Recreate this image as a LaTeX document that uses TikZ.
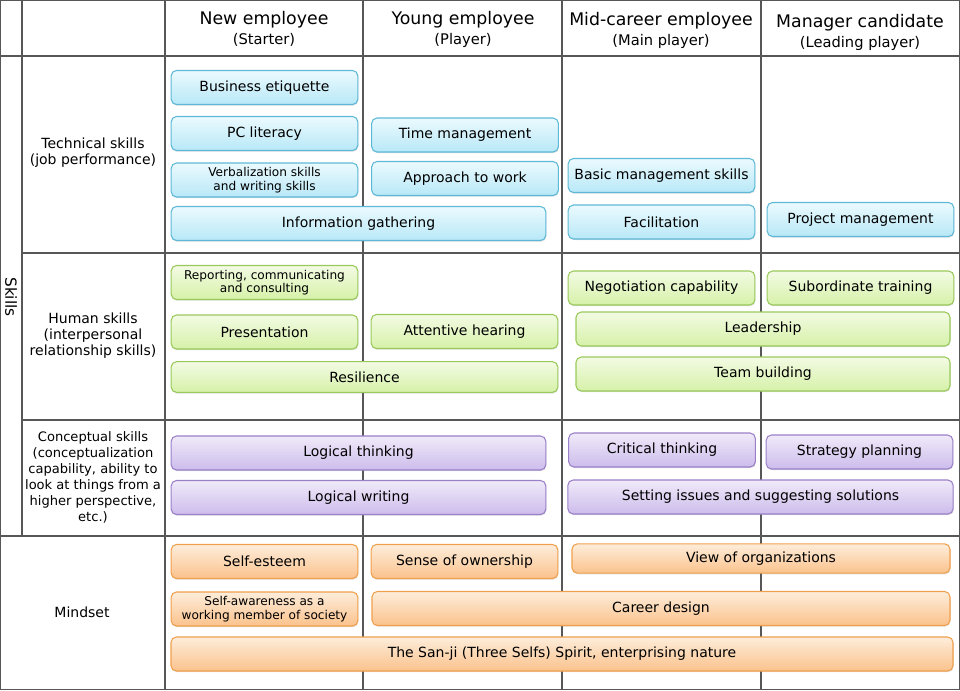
\documentclass[tikz,border=0pt]{standalone}
\usepackage{fontspec}
\setmainfont{DejaVu Sans}
\usetikzlibrary{positioning,shadows}
\definecolor{techtop}{HTML}{EBFAFE}
\definecolor{techbot}{HTML}{B8E8F7}
\definecolor{techline}{HTML}{5DB9D7}
\definecolor{humtop}{HTML}{F3FBE4}
\definecolor{humbot}{HTML}{D6F1A8}
\definecolor{humline}{HTML}{99C95B}
\definecolor{contop}{HTML}{F0EAF9}
\definecolor{conbot}{HTML}{CDBCEC}
\definecolor{conline}{HTML}{9A80C8}
\definecolor{mindtop}{HTML}{FDEDDB}
\definecolor{mindbot}{HTML}{FBC28C}
\definecolor{mindline}{HTML}{F0A04C}
\tikzstyle{grid}=[draw=black!66,line width=0.9pt]
\tikzstyle{head}=[font=\fontsize{13}{15}\selectfont,inner sep=0pt]
\tikzstyle{sub}=[font=\fontsize{11}{13}\selectfont,inner sep=0pt]
\tikzstyle{rowlab}=[align=center,font=\fontsize{10.5}{12}\selectfont]
\tikzstyle{box}=[rounded corners=4pt,line width=0.8pt,align=center,inner sep=1pt,
  minimum height=25.5pt,font=\fontsize{10.5}{12.5}\selectfont,
  drop shadow={shadow xshift=0.4pt,shadow yshift=-0.9pt,opacity=0.25}]
\tikzstyle{small}=[font=\fontsize{9.1}{10.2}\selectfont]
\tikzstyle{tech}=[box,draw=techline,top color=techtop,bottom color=techbot]
\tikzstyle{hum}=[box,draw=humline,top color=humtop,bottom color=humbot]
\tikzstyle{con}=[box,draw=conline,top color=contop,bottom color=conbot]
\tikzstyle{mind}=[box,draw=mindline,top color=mindtop,bottom color=mindbot]
\tikzstyle{one}=[minimum width=140pt]

\begin{document}
\begin{tikzpicture}[x=0.75pt,y=-0.75pt]
  \useasboundingbox (0,0) rectangle (960,690);
  % table grid
  \draw[grid] (0.6,0.6) rectangle (959.4,689.4);
  \draw[grid] (22,0) -- (22,536);
  \foreach \x in {165,363,562,761}
    \draw[grid] (\x,0) -- (\x,690);
  \draw[grid] (0,56) -- (960,56);
  \draw[grid] (22,253) -- (960,253);
  \draw[grid] (22,420) -- (960,420);
  \draw[grid] (0,536) -- (960,536);

  % column heads
  \node[head] (h_1) at (264,20) {New employee};
  \node[sub,below=3.5pt of h_1] {(Starter)};
  \node[head] (h_2) at (463,20) {Young employee};
  \node[sub,below=3.5pt of h_2] {(Player)};
  \node[head] (h_3) at (661,21) {Mid-career employee};
  \node[sub,below=3.5pt of h_3] {(Main player)};
  \node[head] (h_4) at (860,23) {Manager candidate};
  \node[sub,below=3.5pt of h_4] {(Leading player)};

  % row heads
  \node[rotate=-90,font=\fontsize{11.5}{13}\selectfont] (skills) at (11,297) {Skills};
  \node[rowlab] (r_tech) at (93,153) {Technical skills\\(job performance)};
  \node[rowlab] (r_hum) at (93,336) {Human skills\\(interpersonal\\relationship skills)};
  \node[rowlab,font=\fontsize{9.8}{12}\selectfont] (r_con) at (93,477)
    {Conceptual skills\\(conceptualization\\capability, ability to\\look at things from a\\higher perspective,\\etc.)};
  \node[rowlab] (r_mind) at (82,612) {Mindset};

  % technical skills
  \node[tech,one] (t_etiq) at (264.5,87.5) {Business etiquette};
  \node[tech,one] (t_pc) at (264.5,133.5) {PC literacy};
  \node[tech,one] (t_time) at (465,135) {Time management};
  \node[tech,one,small] (t_verb) at (264.5,180) {Verbalization skills\\and writing skills};
  \node[tech,one] (t_appr) at (465,178.5) {Approach to work};
  \node[tech,minimum width=281pt] (t_info) at (358.5,223.5) {Information gathering};
  \node[tech,one] (t_basic) at (661.5,175.5) {Basic management skills};
  \node[tech,one] (t_facil) at (661.5,222) {Facilitation};
  \node[tech,one] (t_proj) at (860.5,219.5) {Project management};

  % human skills
  \node[hum,one,small] (m_report) at (264.5,282.5) {Reporting, communicating\\and consulting};
  \node[hum,one] (m_pres) at (264.5,332) {Presentation};
  \node[hum,one] (m_hear) at (464.5,331.5) {Attentive hearing};
  \node[hum,minimum width=290pt,minimum height=23pt] (m_resil) at (364.5,377) {Resilience};
  \node[hum,one] (m_nego) at (661.5,288) {Negotiation capability};
  \node[hum,one] (m_subord) at (860.5,288) {Subordinate training};
  \node[hum,minimum width=280.5pt] (m_lead) at (763,329) {Leadership};
  \node[hum,minimum width=280.5pt] (m_team) at (763,374) {Team building};

  % conceptual skills
  \node[con,minimum width=281pt] (c_think) at (358.5,453) {Logical thinking};
  \node[con,minimum width=281pt] (c_write) at (358.5,497.5) {Logical writing};
  \node[con,one] (c_crit) at (662,450) {Critical thinking};
  \node[con,one] (c_strat) at (859.5,452) {Strategy planning};
  \node[con,minimum width=289pt] (c_issue) at (760.5,497) {Setting issues and suggesting solutions};

  % mindset
  \node[mind,one] (d_esteem) at (264.5,561.5) {Self-esteem};
  \node[mind,one] (d_own) at (464.5,561.5) {Sense of ownership};
  \node[mind,minimum width=283.5pt,minimum height=22pt] (d_org) at (761,558.5) {View of organizations};
  \node[mind,one,small] (d_aware) at (264.5,609) {Self-awareness as a\\working member of society};
  \node[mind,minimum width=433.5pt] (d_career) at (661,608.5) {Career design};
  \node[mind,minimum width=586.5pt] (d_sanji) at (562,654) {The San-ji (Three Selfs) Spirit, enterprising nature};
\end{tikzpicture}
\end{document}
